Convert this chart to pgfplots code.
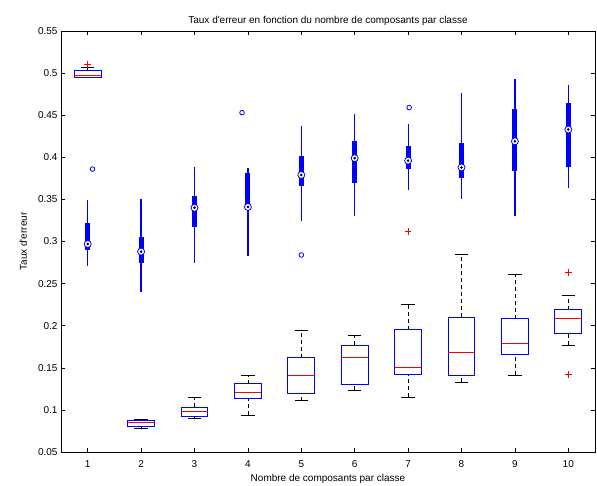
\documentclass[border=0pt]{standalone}
\usepackage{fontspec}
\setmainfont{Liberation Sans}
\usepackage{pgfplots}
\pgfplotsset{compat=1.18}
\definecolor{mblue}{rgb}{0,0,1}
\definecolor{mred}{rgb}{1,0,0}
\begin{document}
\begin{tikzpicture}
\begin{axis}[
  scale only axis, width=534pt, height=421pt,
  xmin=0.5, xmax=10.5, ymin=0.05, ymax=0.55,
  xtick={1,2,3,4,5,6,7,8,9,10},
  ytick={0.05,0.1,0.15,0.2,0.25,0.3,0.35,0.4,0.45,0.5,0.55},
  /pgf/number format/assume math mode=true,
  yticklabel style={/pgf/number format/fixed, /pgf/number format/precision=2},
  xticklabel style={anchor=base, yshift=-15pt},
  tick align=inside, major tick length=4.5pt,
  every tick/.style={black, line width=0.6pt},
  axis line style={line width=0.8pt},
  unbounded coords=jump,
  title={Taux d\textquotesingle erreur en fonction du nombre de composants par classe},
  title style={at={(axis description cs:0.5,1)}, anchor=base, yshift=1pt},
  xlabel={Nombre de composants par classe},
  xlabel style={at={(axis description cs:0.5,-0.0689)}, anchor=base},
  ylabel={Taux d\textquotesingle erreur},
  ylabel style={at={(axis description cs:-0.0637,0.5)}, anchor=base, rotate=0},
]
\coordinate (sw) at (rel axis cs:0,0);
\coordinate (ne) at (rel axis cs:1,1);
% ---- standard boxplots (lower group) ----
% dashed whiskers: lower whisker -> lower quartile, upper quartile -> upper whisker
\addplot[black, line width=0.7pt, dash pattern=on 4pt off 3pt] coordinates {
 (1,0.495) (1,0.495) (1,nan) (1,0.5025) (1,0.507) (1,nan)
 (2,0.0786) (2,0.0801) (2,nan) (2,0.0877) (2,0.089) (2,nan)
 (3,0.0897) (3,0.0917) (3,nan) (3,0.103) (3,0.115) (3,nan)
 (4,0.094) (4,0.114) (4,nan) (4,0.131) (4,0.141) (4,nan)
 (5,0.111) (5,0.119) (5,nan) (5,0.162) (5,0.195) (5,nan)
 (6,0.1234) (6,0.130) (6,nan) (6,0.177) (6,0.188) (6,nan)
 (7,0.1155) (7,0.142) (7,nan) (7,0.195) (7,0.225) (7,nan)
 (8,0.133) (8,0.141) (8,nan) (8,0.210) (8,0.285) (8,nan)
 (9,0.141) (9,0.166) (9,nan) (9,0.208) (9,0.2615) (9,nan)
 (10,0.177) (10,0.191) (10,nan) (10,0.219) (10,0.236)
};
% whisker caps
\addplot[black, line width=0.7pt] coordinates {
 (0.875,0.495) (1.125,0.495) (1,nan) (0.875,0.507) (1.125,0.507) (1,nan)
 (1.875,0.0786) (2.125,0.0786) (2,nan) (1.875,0.089) (2.125,0.089) (2,nan)
 (2.875,0.0897) (3.125,0.0897) (3,nan) (2.875,0.115) (3.125,0.115) (3,nan)
 (3.875,0.094) (4.125,0.094) (4,nan) (3.875,0.141) (4.125,0.141) (4,nan)
 (4.875,0.111) (5.125,0.111) (5,nan) (4.875,0.195) (5.125,0.195) (5,nan)
 (5.875,0.1234) (6.125,0.1234) (6,nan) (5.875,0.188) (6.125,0.188) (6,nan)
 (6.875,0.1155) (7.125,0.1155) (7,nan) (6.875,0.225) (7.125,0.225) (7,nan)
 (7.875,0.133) (8.125,0.133) (8,nan) (7.875,0.285) (8.125,0.285) (8,nan)
 (8.875,0.141) (9.125,0.141) (9,nan) (8.875,0.2615) (9.125,0.2615) (9,nan)
 (9.875,0.177) (10.125,0.177) (10,nan) (9.875,0.236) (10.125,0.236)
};
% boxes: lower quartile to upper quartile
\addplot[mblue, line width=1pt, line cap=rect] coordinates {
 (0.75,0.495) (1.25,0.495) (1.25,0.5025) (0.75,0.5025) (0.75,0.495) (1,nan)
 (1.75,0.0801) (2.25,0.0801) (2.25,0.0877) (1.75,0.0877) (1.75,0.0801) (2,nan)
 (2.75,0.0917) (3.25,0.0917) (3.25,0.103) (2.75,0.103) (2.75,0.0917) (3,nan)
 (3.75,0.114) (4.25,0.114) (4.25,0.131) (3.75,0.131) (3.75,0.114) (4,nan)
 (4.75,0.119) (5.25,0.119) (5.25,0.162) (4.75,0.162) (4.75,0.119) (5,nan)
 (5.75,0.130) (6.25,0.130) (6.25,0.177) (5.75,0.177) (5.75,0.130) (6,nan)
 (6.75,0.142) (7.25,0.142) (7.25,0.195) (6.75,0.195) (6.75,0.142) (7,nan)
 (7.75,0.141) (8.25,0.141) (8.25,0.210) (7.75,0.210) (7.75,0.141) (8,nan)
 (8.75,0.166) (9.25,0.166) (9.25,0.208) (8.75,0.208) (8.75,0.166) (9,nan)
 (9.75,0.191) (10.25,0.191) (10.25,0.219) (9.75,0.219) (9.75,0.191)
};
% medians
\addplot[mred, line width=1pt] coordinates {
 (0.75,0.4975) (1.25,0.4975) (1,nan)
 (1.75,0.0853) (2.25,0.0853) (2,nan)
 (2.75,0.0976) (3.25,0.0976) (3,nan)
 (3.75,0.1206) (4.25,0.1206) (4,nan)
 (4.75,0.141) (5.25,0.141) (5,nan)
 (5.75,0.162) (6.25,0.162) (6,nan)
 (6.75,0.150) (7.25,0.150) (7,nan)
 (7.75,0.168) (8.25,0.168) (8,nan)
 (8.75,0.1786) (9.25,0.1786) (9,nan)
 (9.75,0.208) (10.25,0.208)
};
% outliers
\addplot[only marks, mark=+, mred, mark size=3.3pt, mark options={line width=0.8pt}]
  coordinates {(1,0.510) (7,0.312) (10,0.263) (10,0.142)};
% ---- compact boxplots (upper group) ----
% whiskers
\addplot[mblue, line width=1.2pt] coordinates {
 (1,0.271) (1,0.349) (1,nan)
 (2,0.240) (2,0.350) (2,nan)
 (3,0.275) (3,0.389) (3,nan)
 (4,0.283) (4,0.387) (4,nan)
 (5,0.324) (5,0.437) (5,nan)
 (6,0.330) (6,0.452) (6,nan)
 (7,0.361) (7,0.439) (7,nan)
 (8,0.351) (8,0.476) (8,nan)
 (9,0.330) (9,0.493) (9,nan)
 (10,0.364) (10,0.486)
};
% boxes
\addplot[mblue, line width=5pt] coordinates {
 (1,0.290) (1,0.322) (1,nan)
 (2,0.274) (2,0.305) (2,nan)
 (3,0.317) (3,0.354) (3,nan)
 (4,0.339) (4,0.381) (4,nan)
 (5,0.366) (5,0.401) (5,nan)
 (6,0.369) (6,0.419) (6,nan)
 (7,0.386) (7,0.413) (7,nan)
 (8,0.376) (8,0.417) (8,nan)
 (9,0.384) (9,0.457) (9,nan)
 (10,0.388) (10,0.465)
};
% medians
\addplot[only marks, mark=*, mark size=3.5pt, mark options={draw=mblue, fill=white, line width=0.8pt}] coordinates {
 (1,0.297) (2,0.288) (3,0.340) (4,0.341) (5,0.379) (6,0.399) (7,0.396) (8,0.388) (9,0.419) (10,0.433)
};
\addplot[only marks, mark=*, mark size=1.1pt, black, mark options={fill=black}] coordinates {
 (1,0.297) (2,0.288) (3,0.340) (4,0.341) (5,0.379) (6,0.399) (7,0.396) (8,0.388) (9,0.419) (10,0.433)
};
% outliers
\addplot[only marks, mark=o, mblue, mark size=2.3pt, mark options={line width=0.8pt}]
  coordinates {(1.09,0.386) (3.89,0.453) (5,0.284) (7.02,0.459)};
\end{axis}
\pgfresetboundingbox
\path[use as bounding box] ([xshift=-61pt,yshift=-33pt]sw) rectangle ([xshift=2pt,yshift=31pt]ne);
\end{tikzpicture}
\end{document}
